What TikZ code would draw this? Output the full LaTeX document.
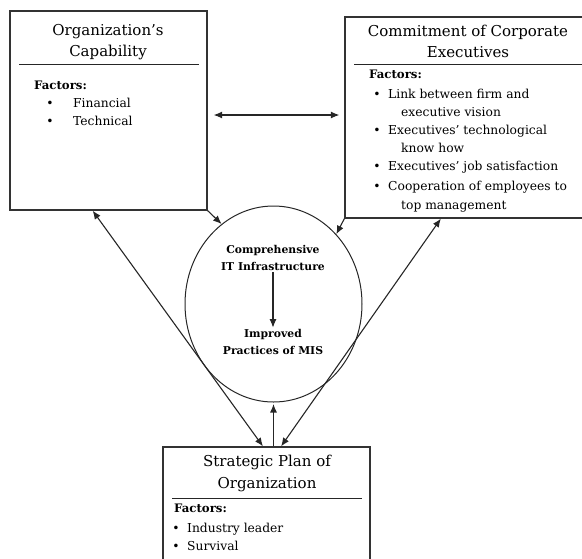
\documentclass[tikz,border=0pt]{standalone}
\usepackage{fontspec}
\setmainfont{DejaVu Serif}
\usetikzlibrary{arrows.meta,shapes.geometric,calc}
\begin{document}
\begin{tikzpicture}[x=1pt,y=-1pt,
  boxframe/.style={draw=black!80,line width=1.3pt,rectangle,inner sep=0pt},
  sepline/.style={draw=black!85,line width=1pt},
  arr/.style={draw=black!85,line width=1.1pt,-{Latex[length=8.5pt,width=7pt]}},
  darr/.style={draw=black!85,line width=1.1pt,{Latex[length=8.5pt,width=7pt]}-{Latex[length=8.5pt,width=7pt]}},
  ttl/.style={align=center,inner sep=0pt,font=\fontsize{15}{21.5}\selectfont},
  itm/.style={anchor=west,inner sep=0pt,text height=.72em,text depth=.2em,font=\fontsize{12.3}{15}\selectfont},
  bul/.style={itm,anchor=center},
  fac/.style={itm,font=\fontsize{11.7}{14}\selectfont\bfseries},
  inner/.style={align=center,inner sep=1.5pt,font=\fontsize{10.8}{17}\selectfont\bfseries}]
\useasboundingbox (0,0) rectangle (582,558);
\clip (0,0) rectangle (582,558);
% boxes
\node[boxframe,minimum width=197pt,minimum height=199pt] (lb) at (108.5,110.5) {};
\node[boxframe,minimum width=250pt,minimum height=201pt] (rb) at (470,117.5) {};
\node[boxframe,minimum width=207pt,minimum height=123pt] (bb) at (266.5,508.5) {};
\node[draw=black!85,line width=1pt,ellipse,inner sep=0pt,minimum width=177pt,minimum height=196pt] (el) at (273.5,304) {};
% separators
\draw[sepline] (19,64) -- (199,64);
\draw[sepline] (354,64) -- (590,64);
\draw[sepline] (172,498) -- (362,498);
% titles
\node[ttl] (lbt) at (108,42) {Organization’s\\Capability};
\node[ttl] (rbt) at (468,41.5) {Commitment of Corporate\\Executives};
\node[ttl] (bbt) at (267,473.5) {Strategic Plan of\\Organization};
% left box list
\node[fac] (lf) at (34,87) {Factors:};
\node[bul] (lb1) at (50,105) {•};
\node[itm] (li1) at (73,105) {Financial};
\node[bul] (lb2) at (50,123) {•};
\node[itm] (li2) at (73,123) {Technical};
% right box list
\node[fac] (rf) at (369,76) {Factors:};
\node[bul] (rb1) at (377,96) {•};
\node[itm] (ri1) at (388,96) {Link between firm and};
\node[itm] (ri1b) at (401,114) {executive vision};
\node[bul] (rb2) at (377,132) {•};
\node[itm] (ri2) at (388,132) {Executives’ technological};
\node[itm] (ri2b) at (401,150) {know how};
\node[bul] (rb3) at (377,168) {•};
\node[itm] (ri3) at (388,168) {Executives’ job satisfaction};
\node[bul] (rb4) at (377,188) {•};
\node[itm] (ri4) at (388,188) {Cooperation of employees to};
\node[itm] (ri4b) at (401,207) {top management};
% bottom box list
\node[fac] (bf) at (174,510) {Factors:};
\node[bul] (bb1) at (176,530) {•};
\node[itm] (bi1) at (187,530) {Industry leader};
\node[bul] (bb2) at (176,548) {•};
\node[itm] (bi2) at (187,548) {Survival};
% ellipse contents
\node[inner] (c1) at (273,257.5) {Comprehensive\\IT Infrastructure};
\node[inner] (c2) at (273,342) {Improved\\Practices of MIS};
\draw[arr] (c1.south) -- (c2.north);
% connectors
\draw[darr] ($(lb.east)+(6,4.5)$) -- ($(rb.west)+(-5,-2.5)$);
\draw[arr] (lb.south east) -- (el.123);
\draw[arr] (rb.south west) -- (el.48.6);
\draw[darr] ($(lb.south west)!0.42!(lb.south east)$) -- ($(bb.north west)!0.483!(bb.north east)$);
\draw[darr] ($(rb.south west)!0.384!(rb.south east)$) -- ($(bb.north west)!0.57!(bb.north east)$);
\draw[arr,shorten >=1.5pt] (el.south |- bb.north) -- (el.south);
\end{tikzpicture}
\end{document}
